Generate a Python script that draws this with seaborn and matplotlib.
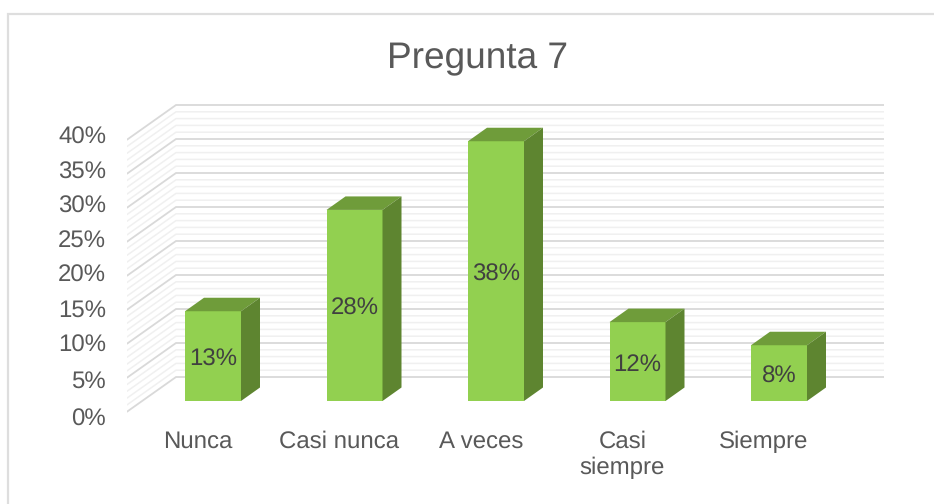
import pandas as pd
import seaborn as sns
import matplotlib.pyplot as plt
from matplotlib.lines import Line2D
from matplotlib.patches import Polygon

categorias = ["Nunca", "Casi nunca", "A veces", "Casi siempre", "Siempre"]
etiquetas_x = ["Nunca", "Casi nunca", "A veces", "Casi\nsiempre", "Siempre"]
valores = [13.2, 28.1, 38.2, 11.6, 8.2]
escala_y = [0, 5, 10, 15, 20, 25, 30, 35, 40]
etiqueta_y_px = [417, 379, 343, 308, 273, 239, 204, 170, 135]  # labels are not evenly spaced in the original

W, H = 934, 504
PX_POR_PCT = 6.8       # vertical pixels per percent
PX_POR_CAT = 141.5     # horizontal pixels per category
BASE_PX = 401          # bar baseline in the picture
CENTRO0_PX = 213       # centre of first bar
GRIS_TEXTO = "#595959"

sns.set_theme(style="white")
plt.rcParams["font.family"] = ["Liberation Sans", "DejaVu Sans"]
plt.rcParams["text.hinting"] = "no_hinting"
plt.rcParams["text.hinting_factor"] = 1

df = pd.DataFrame({"categoria": categorias, "valor": valores})

fig = plt.figure(figsize=(W / 100, H / 100), dpi=100)

# chart frame: only top and left edges are inside the crop
fig.add_artist(Line2D([7.5 / W, 7.5 / W, 1], [0, 1 - 13.5 / H, 1 - 13.5 / H], color="#DEDEDE", lw=1.6,
                      solid_joinstyle="miter"))

izq, der, arriba, abajo = 127, 884, 100, 422
ax = fig.add_axes([izq / W, 1 - abajo / H, (der - izq) / W, (abajo - arriba) / H])
ax.patch.set_alpha(0)

sns.barplot(data=df, x="categoria", y="valor", color="#92D050", saturation=1, width=56 / PX_POR_CAT,
            linewidth=0, ax=ax, zorder=3)

xlim = ((izq - CENTRO0_PX) / PX_POR_CAT, (der - CENTRO0_PX) / PX_POR_CAT)
ylim = ((BASE_PX - abajo) / PX_POR_PCT, (BASE_PX - arriba) / PX_POR_PCT)

# walls: side wall from the front edge to the back, then the back wall
x_frente, x_fondo = xlim[0], (176 - CENTRO0_PX) / PX_POR_CAT
for v in range(0, 41):
    mayor = v % 5 == 0
    color = "#D9D9D9" if mayor else "#F0F0F0"
    lw = 1.3 if mayor else 1.1
    y_frente = (BASE_PX - 411.7) / PX_POR_PCT + v
    y_fondo = (BASE_PX - 377) / PX_POR_PCT + v
    ax.plot([x_frente, x_fondo, xlim[1]], [y_frente, y_fondo, y_fondo], color=color, lw=lw,
            zorder=2 if mayor else 1, solid_joinstyle="miter")

# 3d sides of the bars
dx = 19 / PX_POR_CAT
dy = 13.5 / PX_POR_PCT
for barra in list(ax.patches):
    x0 = barra.get_x()
    x1 = x0 + barra.get_width()
    y1 = barra.get_height()
    ax.add_patch(Polygon([(x0, y1), (x1, y1), (x1 + dx, y1 + dy), (x0 + dx, y1 + dy)],
                         facecolor="#6F9C3A", edgecolor="none", zorder=3))
    ax.add_patch(Polygon([(x1, 0), (x1 + dx, dy), (x1 + dx, y1 + dy), (x1, y1)],
                         facecolor="#5E8530", edgecolor="none", zorder=3))

ax.bar_label(ax.containers[0], labels=[f"{v:.0f}%" for v in valores], label_type="center", padding=-2.2,
             fontsize=17, color="#404040", zorder=4)

# axis labels
ax.set_xticks([i - 15 / PX_POR_CAT for i in range(len(categorias))])
ax.set_xticklabels(etiquetas_x, fontsize=17, color=GRIS_TEXTO, linespacing=1.2)
ax.set_yticks([(BASE_PX - p) / PX_POR_PCT for p in etiqueta_y_px])
ax.set_yticklabels([f"{e}%" for e in escala_y], fontsize=17.5, color=GRIS_TEXTO)
ax.tick_params(axis="x", length=0, pad=6.2)
ax.tick_params(axis="y", length=0, pad=15)
ax.set_xlabel("")
ax.set_ylabel("")
ax.set_xlim(xlim)
ax.set_ylim(ylim)  # after set_yticks, which widens the limits
sns.despine(ax=ax, left=True, bottom=True)

fig.text(478 / W, 1 - 59 / H, "Pregunta 7", fontsize=26.5, color=GRIS_TEXTO, ha="center", va="center")

fig.savefig("out.png", dpi=100, facecolor="white")
